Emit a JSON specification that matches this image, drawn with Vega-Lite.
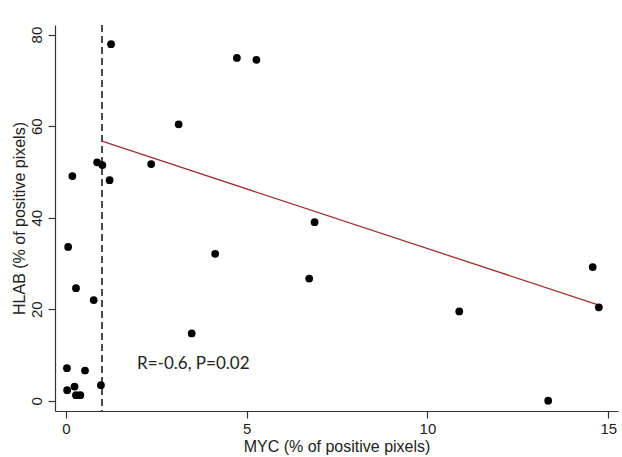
{
  "$schema": "https://vega.github.io/schema/vega-lite/v6.json",
  "width": 563,
  "height": 386,
  "autosize": {"type": "none"},
  "padding": {"left": 55, "top": 25, "right": 4, "bottom": 46},
  "background": "white",
  "config": {
    "view": {"stroke": null},
    "axis": {"grid": false, "domainColor": "#333333", "tickColor": "#333333", "labelColor": "#222222", "titleColor": "#222222", "labelFont": "Liberation Sans", "titleFont": "Liberation Sans", "labelFontSize": 15, "titleFontSize": 16, "titleFontWeight": "normal", "tickSize": 7, "domainWidth": 1.2, "tickWidth": 1.2}
  },
  "datasets": {
    "points": [
      {"myc": 1.25, "hlab": 77.9},
      {"myc": 4.73, "hlab": 74.9},
      {"myc": 5.27, "hlab": 74.5},
      {"myc": 3.12, "hlab": 60.4},
      {"myc": 0.865, "hlab": 52.1},
      {"myc": 1.01, "hlab": 51.5},
      {"myc": 2.36, "hlab": 51.7},
      {"myc": 0.18, "hlab": 49.1},
      {"myc": 1.21, "hlab": 48.2},
      {"myc": 6.88, "hlab": 39.0},
      {"myc": 0.064, "hlab": 33.6},
      {"myc": 4.13, "hlab": 32.1},
      {"myc": 0.28, "hlab": 24.6},
      {"myc": 6.73, "hlab": 26.7},
      {"myc": 0.77, "hlab": 22.0},
      {"myc": 3.48, "hlab": 14.7},
      {"myc": 0.03, "hlab": 7.1},
      {"myc": 0.53, "hlab": 6.6},
      {"myc": 0.036, "hlab": 2.3},
      {"myc": 0.24, "hlab": 3.1},
      {"myc": 0.28, "hlab": 1.2},
      {"myc": 0.40, "hlab": 1.2},
      {"myc": 0.97, "hlab": 3.4},
      {"myc": 14.57, "hlab": 29.2},
      {"myc": 14.74, "hlab": 20.4},
      {"myc": 10.88, "hlab": 19.5},
      {"myc": 13.34, "hlab": 0.0}
    ],
    "fit": [
      {"myc": 1.0, "hlab": 56.7},
      {"myc": 14.74, "hlab": 20.9}
    ],
    "cutoff": [{"myc": 1.0}],
    "note": [{"myc": 1.97, "hlab": 8.0, "label": "R=-0.6, P=0.02"}]
  },
  "layer": [
    {
      "data": {"name": "cutoff"},
      "mark": {"type": "rule", "color": "#111111", "strokeWidth": 1.5, "strokeDash": [7, 4]},
      "encoding": {
        "x": {"field": "myc", "type": "quantitative", "scale": {"domain": [-0.3, 15.27], "nice": false, "zero": false}}
      }
    },
    {
      "data": {"name": "fit"},
      "mark": {"type": "line", "color": "#a0302f", "strokeWidth": 1.3},
      "encoding": {
        "x": {"field": "myc", "type": "quantitative"},
        "y": {"field": "hlab", "type": "quantitative"}
      }
    },
    {
      "data": {"name": "points"},
      "mark": {"type": "point", "filled": true, "shape": "circle", "color": "#000000", "opacity": 1, "size": 60},
      "encoding": {
        "x": {"field": "myc", "type": "quantitative", "scale": {"domain": [-0.3, 15.27], "nice": false, "zero": false},
              "axis": {"title": "MYC (% of positive pixels)", "values": [0, 5, 10, 15], "labelPadding": 3, "titlePadding": 2}},
        "y": {"field": "hlab", "type": "quantitative", "scale": {"domain": [-2.25, 82.1], "nice": false, "zero": false},
              "axis": {"title": "HLAB (% of positive pixels)", "values": [0, 20, 40, 60, 80], "labelAngle": -90, "labelAlign": "center", "labelBaseline": "bottom", "labelPadding": 4, "titlePadding": 2}}
      }
    },
    {
      "data": {"name": "note"},
      "mark": {"type": "text", "align": "left", "baseline": "middle", "font": "Lato", "fontSize": 17, "color": "#222222"},
      "encoding": {
        "x": {"field": "myc", "type": "quantitative"},
        "y": {"field": "hlab", "type": "quantitative"},
        "text": {"field": "label"}
      }
    }
  ]
}
